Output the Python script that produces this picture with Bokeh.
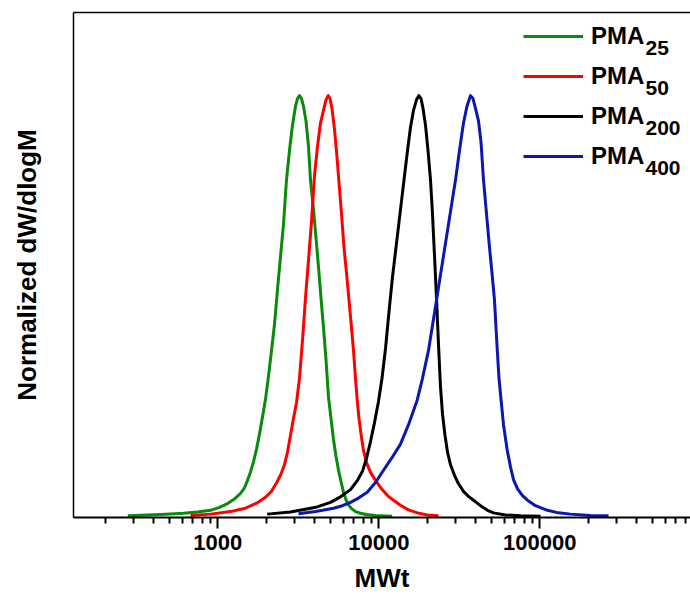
from bokeh.plotting import figure
from bokeh.models import Range1d, FixedTicker, LogAxis, Legend, LegendItem, BasicTickFormatter, Label
from bokeh.embed import file_html
from bokeh.resources import INLINE

# ---- data (MWt, normalized dW/dlogM) ----
mw_pma25 = [276, 441, 612, 748, 901, 1025, 1149, 1270, 1384, 1465, 1529, 1597, 1666, 1740, 1816,
            1895, 1978, 2065, 2155, 2250, 2349, 2451, 2559, 2671, 2788, 2911, 3038, 3126, 3217,
            3311, 3406, 3530, 3659, 3765, 3930, 4102, 4252, 4387, 4535, 4699, 4871, 5048, 5231,
            5422, 5620, 5824, 6035, 6256, 6483, 6767, 7166, 7697, 8387, 9539, 12110]
dw_pma25 = [0.004, 0.007, 0.010, 0.013, 0.017, 0.024, 0.033, 0.044, 0.057, 0.070, 0.088, 0.108, 0.132,
            0.162, 0.198, 0.238, 0.280, 0.335, 0.395, 0.458, 0.540, 0.618, 0.695, 0.800, 0.870, 0.930,
            0.975, 0.993, 1.000,
            0.993, 0.975, 0.940, 0.880, 0.800, 0.730, 0.650, 0.580, 0.515, 0.450, 0.375, 0.285, 0.235,
            0.185, 0.145, 0.112, 0.085, 0.060, 0.042, 0.030, 0.021, 0.014, 0.010, 0.007, 0.005, 0.003]

mw_pma50 = [677, 901, 1199, 1486, 1764, 1978, 2155, 2315, 2451, 2596, 2710, 2829, 2953, 3082, 3217,
            3358, 3505, 3659, 3819, 3987, 4162, 4344, 4535, 4699, 4850,
            4976, 5120, 5307, 5484, 5644, 5865, 6080, 6301, 6530, 6767, 6965, 7166, 7343, 7534, 7807,
            8035, 8387, 8881, 9539, 10394, 11324, 12338, 13638, 15293, 17397, 20068, 23486]
dw_pma50 = [0.005, 0.008, 0.014, 0.022, 0.035, 0.048, 0.062, 0.082, 0.100, 0.125, 0.155, 0.195, 0.235,
            0.272, 0.330, 0.420, 0.520, 0.610, 0.700, 0.810, 0.880, 0.935, 0.965, 0.990, 1.000,
            0.993, 0.970, 0.920, 0.860, 0.800, 0.720, 0.640, 0.580, 0.515, 0.450, 0.396, 0.330, 0.278,
            0.235, 0.190, 0.159, 0.130, 0.107, 0.088, 0.068, 0.052, 0.041, 0.029, 0.018, 0.011, 0.006,
            0.004]

mw_pma200 = [2027, 2829, 4144, 5012, 5783, 6671, 7374, 7921, 8387, 8881, 9404, 9956, 10469, 11005,
             11324, 11655, 12165, 12697, 13256, 13836, 14443, 15078, 15739, 16424, 17147, 17720,
             18287, 18816, 19503, 20212, 20947, 21551, 22182, 22826, 23486, 24163, 24872, 25775,
             26713, 27882, 29525, 31261, 33580, 36066, 38744, 42825, 47340, 51573, 61235, 75875,
             101000]
dw_pma200 = [0.008, 0.013, 0.025, 0.036, 0.049, 0.066, 0.088, 0.110, 0.140, 0.180, 0.225, 0.275, 0.330,
             0.400, 0.450, 0.500, 0.570, 0.630, 0.690, 0.750, 0.810, 0.870, 0.925, 0.965, 0.990, 1.000,
             0.993, 0.970, 0.930, 0.870, 0.800, 0.720, 0.620, 0.520, 0.410, 0.310, 0.245, 0.195, 0.155,
             0.125, 0.100, 0.080, 0.062, 0.050, 0.041, 0.028, 0.017, 0.011, 0.006, 0.004, 0.003]

mw_pma400 = [3171, 4044, 5231, 5950, 6671, 7480, 8472, 9539, 10696, 11990, 13638, 15293, 17317, 18681,
             20357, 21551, 22826, 24512, 26332, 28286, 29954, 31710, 33580, 35304, 37119,
             38469, 39867, 41618, 43131, 44700, 46655, 48708, 50480, 52314, 54374, 55798, 57586, 59501,
             62734, 65765, 68642, 72699, 78073, 83866, 94041, 111640, 130690, 155130, 206490, 267120]
dw_pma400 = [0.009, 0.014, 0.022, 0.028, 0.036, 0.046, 0.060, 0.083, 0.112, 0.140, 0.174, 0.220, 0.278,
             0.330, 0.396, 0.455, 0.515, 0.590, 0.665, 0.740, 0.800, 0.870, 0.935, 0.975, 1.000,
             0.993, 0.970, 0.940, 0.890, 0.800, 0.720, 0.640, 0.580, 0.515, 0.400, 0.330, 0.275, 0.220,
             0.160, 0.120, 0.090, 0.068, 0.052, 0.041, 0.028, 0.017, 0.011, 0.008, 0.005, 0.004]

series_base = ["PMA", "PMA", "PMA", "PMA"]
series_sub = ["25", "50", "200", "400"]
series_colors = ["#0a8a0a", "#ff0000", "#000000", "#0c16b0"]

major_ticks = [1000, 10000, 100000]
minor_ticks = [200, 300, 400, 500, 600, 700, 800, 900,
               2000, 3000, 4000, 5000, 6000, 7000, 8000, 9000,
               20000, 30000, 40000, 50000, 60000, 70000, 80000, 90000,
               200000, 300000, 400000, 500000, 600000, 700000, 800000, 900000]

x_title = "MWt"
y_title = "Normalized dW/dlogM"

FONT = "Liberation Sans"

p = figure(width=690, height=596, x_axis_type="log",
           x_range=Range1d(127, 863000), y_range=Range1d(0, 1.197),
           output_backend="svg", toolbar_location=None,
           min_border_left=73, min_border_right=0, min_border_top=12, min_border_bottom=79)
p.xgrid.visible = False
p.ygrid.visible = False
p.outline_line_color = None
p.background_fill_color = "white"
p.border_fill_color = "white"

# bottom axis
xa = p.xaxis[0]
xa.ticker = FixedTicker(ticks=major_ticks, minor_ticks=minor_ticks)
xa.formatter = BasicTickFormatter(use_scientific=False)
xa.major_label_text_font = FONT
xa.major_label_text_font_style = "bold"
xa.major_label_text_font_size = "22px"
xa.major_label_text_color = "#000000"
xa.major_label_standoff = 6
xa.major_tick_in = 0
xa.major_tick_out = 11
xa.minor_tick_in = 0
xa.minor_tick_out = 6
xa.major_tick_line_width = 2
xa.minor_tick_line_width = 2
xa.axis_line_width = 2
xa.axis_line_color = "#000000"
xa.axis_label = x_title
xa.axis_label_text_font = FONT
xa.axis_label_text_font_style = "bold"
xa.axis_label_text_font_size = "26px"
xa.axis_label_text_color = "#000000"
xa.axis_label_standoff = 10

# left axis
ya = p.yaxis[0]
ya.ticker = FixedTicker(ticks=[])
ya.major_tick_out = 0
ya.major_tick_in = 0
ya.minor_tick_out = 0
ya.minor_tick_in = 0
ya.axis_line_width = 1.5
ya.axis_line_color = "#000000"
ya.axis_label = y_title
ya.axis_label_text_font = FONT
ya.axis_label_text_font_style = "bold"
ya.axis_label_text_font_size = "26px"
ya.axis_label_text_color = "#000000"
ya.axis_label_standoff = 32

# top frame line
top = LogAxis(ticker=FixedTicker(ticks=[]), major_tick_out=0, major_tick_in=0,
              minor_tick_out=0, minor_tick_in=0, axis_line_width=1.5, axis_line_color="#000000")
p.add_layout(top, "above")

renderers = []
for mw, dw, c in zip([mw_pma25, mw_pma50, mw_pma200, mw_pma400],
                     [dw_pma25, dw_pma50, dw_pma200, dw_pma400], series_colors):
    r = p.line(mw, dw, line_color=c, line_width=3, line_join="round")
    renderers.append(r)

legend = Legend(items=[LegendItem(label=lab, renderers=[r]) for lab, r in zip(series_base, renderers)],
                location=(450, 341), orientation="vertical",
                glyph_width=60, glyph_height=40, label_height=40, spacing=0, padding=0, margin=0,
                label_standoff=8, border_line_color=None, background_fill_alpha=0,
                label_text_font=FONT, label_text_font_style="bold", label_text_font_size="24px",
                label_text_color="#000000")
p.add_layout(legend)

# subscripts of the legend labels
for i, s in enumerate(series_sub):
    p.add_layout(Label(x=572, y=470 - 40 * i, x_units="screen", y_units="screen", text=s,
                       text_font=FONT, text_font_style="bold", text_font_size="21px",
                       text_color="#000000", text_baseline="alphabetic", text_align="left"))

open("out.html", "w").write(file_html(p, INLINE))
